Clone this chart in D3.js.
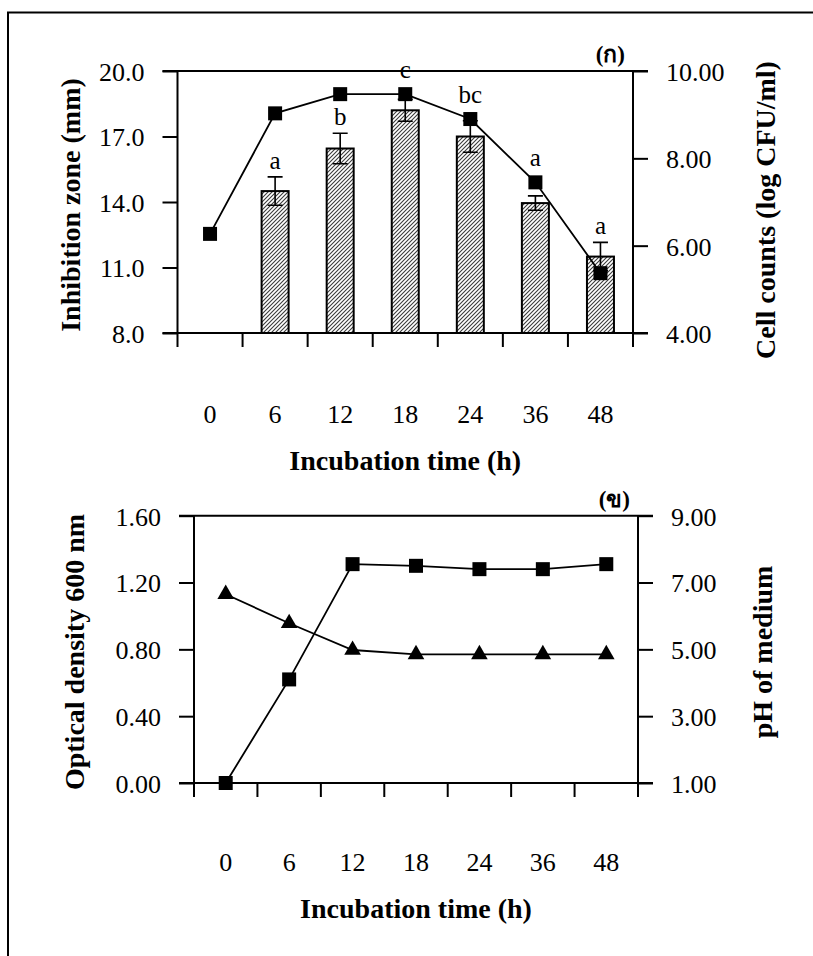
<!DOCTYPE html>
<html>
<head>
<meta charset="utf-8">
<script src="https://cdn.jsdelivr.net/npm/d3@7"></script>
<style>
  html, body { margin: 0; padding: 0; background: #fff; }
  svg text { font-family: "Liberation Serif", "Times New Roman", serif; fill: #000; }
</style>
</head>
<body>
<svg id="chart" width="813" height="956"></svg>
<script>
// Incubation times (h), one category per sampling point
const hours = ["0", "6", "12", "18", "24", "36", "48"];

// Panel (ก): inhibition zone (bars, mm) with SD and significance letters
const inhibitionZone = [null, 14.5, 16.45, 18.2, 17.0, 13.95, 11.5];
const inhibitionErr  = [null, 0.65, 0.7, 0.5, 0.72, 0.33, 0.65];
const groupLetters   = ["", "a", "b", "c", "bc", "a", "a"];
// Panel (ก): viable cell counts (log CFU/ml), right axis
const cellCounts = [6.27, 9.03, 9.47, 9.47, 8.9, 7.45, 5.37];

// Panel (ข): optical density at 600 nm (left) and pH of medium (right)
const opticalDensity = [0.00, 0.62, 1.31, 1.30, 1.28, 1.28, 1.31];
const mediumPH       = [6.65, 5.78, 4.98, 4.85, 4.85, 4.85, 4.85];

// Axis ticks
const zoneTicks = [8, 11, 14, 17, 20];
const countTicks = [4, 6, 8, 10];
const odTicks = [0, 0.4, 0.8, 1.2, 1.6];
const phTicks = [1, 3, 5, 7, 9];

const svg = d3.select("#chart");
svg.append("rect").attr("width", 813).attr("height", 956).attr("fill", "#fff");

// page frame (top and left edges)
svg.append("path").attr("d", "M8,956 V12.5 H813")
  .attr("fill", "none").attr("stroke", "#000").attr("stroke-width", 2);

// hatch fill for bars
const defs = svg.append("defs");
defs.append("pattern")
  .attr("id", "hatch").attr("patternUnits", "userSpaceOnUse")
  .attr("width", 4).attr("height", 4)
  .call(p => {
    p.append("rect").attr("width", 4).attr("height", 4).attr("fill", "#fff");
    p.append("path").attr("d", "M-1,1 l2,-2 M0,4 l4,-4 M3,5 l2,-2")
      .attr("stroke", "#3a3a3a").attr("stroke-width", 1.1);
  });

const TICK = 15, XTICK = 14;

function frame(g, x, yL, yR, o) {
  const [x0, x1] = x.range();
  const [yb, yt] = yL.range();
  // top border line
  g.append("line").attr("x1", x0 - TICK).attr("x2", x1 + TICK)
    .attr("y1", yt).attr("y2", yt).attr("stroke", "#000").attr("stroke-width", 2);

  // left axis
  const la = g.append("g").attr("transform", `translate(${x0},0)`)
    .call(d3.axisLeft(yL).tickValues(o.leftTicks).tickFormat(d3.format(o.leftFmt))
      .tickSize(TICK).tickPadding(18));
  // right axis
  const ra = g.append("g").attr("transform", `translate(${x1},0)`)
    .call(d3.axisRight(yR).tickValues(o.rightTicks).tickFormat(d3.format(o.rightFmt))
      .tickSize(TICK).tickPadding(18));
  [la, ra].forEach(a => {
    a.select(".domain").remove();
    a.selectAll(".tick line").attr("stroke-width", 2);
    a.selectAll(".tick text").attr("font-size", 26).attr("dy", "0.36em");
  });
  // vertical axis lines, extending down to the category ticks
  [x0, x1].forEach(xx => g.append("line").attr("x1", xx).attr("x2", xx)
    .attr("y1", yt).attr("y2", yb + XTICK).attr("stroke", "#000").attr("stroke-width", 2));

  // bottom axis with category boundary ticks
  g.append("line").attr("x1", x0 - TICK).attr("x2", x1 + TICK)
    .attr("y1", yb).attr("y2", yb).attr("stroke", "#000").attr("stroke-width", 2);
  const bounds = d3.range(1, hours.length).map(i => x0 + i * x.step());
  g.selectAll(".bt").data(bounds).join("line")
    .attr("x1", d => d).attr("x2", d => d).attr("y1", yb).attr("y2", yb + XTICK)
    .attr("stroke", "#000").attr("stroke-width", 2);
  const xa = g.append("g").attr("transform", `translate(0,${yb})`)
    .call(d3.axisBottom(x).tickSize(0).tickPadding(o.xPad));
  xa.select(".domain").remove();
  xa.selectAll(".tick text").attr("font-size", 26);

  // axis titles
  g.append("text").attr("x", (x0 + x1) / 2).attr("y", o.xTitleY)
    .attr("text-anchor", "middle").attr("font-size", 28).attr("font-weight", "bold")
    .text("Incubation time (h)");
  g.append("text").attr("transform", `translate(${o.lTitleX},${o.lTitleY}) rotate(-90)`)
    .attr("text-anchor", "middle").attr("dy", "0.35em")
    .attr("font-size", 28).attr("font-weight", "bold").text(o.leftTitle);
  g.append("text").attr("transform", `translate(${o.rTitleX},${o.rTitleY}) rotate(-90)`)
    .attr("text-anchor", "middle").attr("dy", "0.35em")
    .attr("font-size", 28).attr("font-weight", "bold").text(o.rightTitle);
  // panel tag
  g.append("text").attr("x", x1 - 8).attr("y", yt - 9).attr("text-anchor", "end")
    .attr("font-size", 23).attr("font-weight", "bold").text(o.tag);
}

// ---------- Panel (ก) ----------
const gA = svg.append("g");
const xA = d3.scaleBand().domain(hours).range([177.5, 633]).padding(0);
const yZone = d3.scaleLinear().domain([8, 20]).range([333, 71]);
const yCount = d3.scaleLinear().domain([4, 10]).range([333, 71]);

frame(gA, xA, yZone, yCount, {
  leftTicks: zoneTicks, leftFmt: ".1f", rightTicks: countTicks, rightFmt: ".2f",
  xPad: 72, xTitleY: 470,
  leftTitle: "Inhibition zone (mm)", lTitleX: 70, lTitleY: 205,
  rightTitle: "Cell counts (log CFU/ml)", rTitleX: 765, rTitleY: 210,
  tag: "(ก)"
});

const barW = 27;
const bars = hours.map((h, i) => ({ h, v: inhibitionZone[i], e: inhibitionErr[i],
  letter: groupLetters[i], c: cellCounts[i] })).filter(d => d.v != null);

gA.selectAll(".bar").data(bars).join("rect")
  .attr("x", d => xA(d.h) + xA.bandwidth() / 2 - barW / 2)
  .attr("y", d => yZone(d.v)).attr("width", barW)
  .attr("height", d => yZone(8) - yZone(d.v))
  .attr("fill", "url(#hatch)").attr("stroke", "#000").attr("stroke-width", 2);

// error bars
const cap = 7.5;
bars.forEach(d => {
  const cx = xA(d.h) + xA.bandwidth() / 2;
  const t = yZone(d.v + d.e), b = yZone(d.v - d.e);
  gA.append("path")
    .attr("d", `M${cx},${t}V${b}M${cx - cap},${t}H${cx + cap}M${cx - cap},${b}H${cx + cap}`)
    .attr("stroke", "#000").attr("stroke-width", 1.6).attr("fill", "none");
});

// cell count line and markers
const cx = h => xA(h) + xA.bandwidth() / 2;
gA.append("path").datum(cellCounts)
  .attr("d", d3.line().x((d, i) => cx(hours[i])).y(d => yCount(d)))
  .attr("fill", "none").attr("stroke", "#000").attr("stroke-width", 1.8);
const MS = 14;
gA.selectAll(".sq").data(cellCounts).join("rect")
  .attr("x", (d, i) => cx(hours[i]) - MS / 2).attr("y", d => yCount(d) - MS / 2)
  .attr("width", MS).attr("height", MS).attr("fill", "#000");

// significance letters above error bars, lifted clear of the markers
bars.forEach(d => {
  const x = cx(d.h);
  let y = yZone(d.v + d.e) - 8;
  const m = yCount(d.c);
  if (m - MS / 2 < y + 2 && m + MS / 2 > y - 14) y = m - MS / 2 - 9;
  gA.append("text").attr("x", x).attr("y", y).attr("text-anchor", "middle")
    .attr("font-size", 25).text(d.letter);
});

// ---------- Panel (ข) ----------
const gB = svg.append("g");
const xB = d3.scaleBand().domain(hours).range([194, 638]).padding(0);
const yOD = d3.scaleLinear().domain([0, 1.6]).range([783, 515.7]);
const yPH = d3.scaleLinear().domain([1, 9]).range([783, 515.7]);

frame(gB, xB, yOD, yPH, {
  leftTicks: odTicks, leftFmt: ".2f", rightTicks: phTicks, rightFmt: ".2f",
  xPad: 70, xTitleY: 918,
  leftTitle: "Optical density 600 nm", lTitleX: 74, lTitleY: 652,
  rightTitle: "pH of medium", rTitleX: 762, rTitleY: 652,
  tag: "(ข)"
});

const cxB = h => xB(h) + xB.bandwidth() / 2;
gB.append("path").datum(opticalDensity)
  .attr("d", d3.line().x((d, i) => cxB(hours[i])).y(d => yOD(d)))
  .attr("fill", "none").attr("stroke", "#000").attr("stroke-width", 1.8);
gB.append("path").datum(mediumPH)
  .attr("d", d3.line().x((d, i) => cxB(hours[i])).y(d => yPH(d)))
  .attr("fill", "none").attr("stroke", "#000").attr("stroke-width", 1.8);

gB.selectAll(".sq").data(opticalDensity).join("rect")
  .attr("x", (d, i) => cxB(hours[i]) - MS / 2).attr("y", d => yOD(d) - MS / 2)
  .attr("width", MS).attr("height", MS).attr("fill", "#000");

const tri = d3.symbol().type(d3.symbolTriangle).size(120);
gB.selectAll(".tri").data(mediumPH).join("path")
  .attr("transform", (d, i) => `translate(${cxB(hours[i])},${yPH(d)})`)
  .attr("d", tri).attr("fill", "#000");
</script>
</body>
</html>
